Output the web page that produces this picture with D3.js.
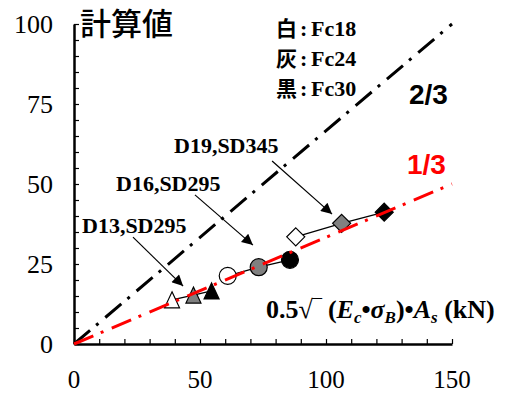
<!DOCTYPE html>
<html>
<head>
<meta charset="utf-8">
<script src="https://cdn.jsdelivr.net/npm/d3@7"></script>
<style>
  body { margin: 0; background: #fff; }
  svg { display: block; }
</style>
</head>
<body>
<div id="chart"></div>
<script>
// data
var xTicks = [0, 50, 100, 150];
var yTicks = [0, 25, 50, 75, 100];
var fills = ["#ffffff", "#808080", "#000000"];   // 白, 灰, 黒

var triX = [38.9, 47.4, 54.6];
var triY = [13.8, 15.3, 16.6];
var cirX = [61.0, 73.3, 85.7];
var cirY = [21.3, 24.0, 26.3];
var diaX = [88.0, 106.2, 123.1];
var diaY = [33.5, 37.7, 41.2];

var ratios = [2/3, 1/3];
var ratioLabels = ["2/3", "1/3"];
var legendKanji = ["白", "灰", "黒"];
var legendFc = ["Fc18", "Fc24", "Fc30"];

var barNames = ["D13,SD295", "D16,SD295", "D19,SD345"];
var arrowFrom = [[23.4, 33.4], [48.0, 46.6], [78.6, 57.2]];
var arrowTo = [[43.3, 18.1], [71.0, 30.9], [102.4, 40.6]];

var width = 511, height = 394;
var svg = d3.select("#chart").append("svg")
    .attr("width", width)
    .attr("height", height);

var x = d3.scaleLinear().domain([0, 150]).range([74, 452]);
var y = d3.scaleLinear().domain([0, 100]).range([344, 24]);

var serif = "'Liberation Serif','Times New Roman',serif";
var sans = "'Liberation Sans',Arial,sans-serif";
var cjk = "'Noto Sans CJK JP',sans-serif";

// axes, ticks point inside
var xAxis = svg.append("g")
    .attr("transform", "translate(0," + y(0) + ")")
    .call(d3.axisBottom(x).tickValues(d3.range(0, 151, 10)).tickSize(-5).tickSizeOuter(0).tickFormat(""));
var yAxis = svg.append("g")
    .attr("transform", "translate(" + x(0) + ",0)")
    .call(d3.axisLeft(y).tickValues(d3.range(0, 101, 5)).tickSize(-5).tickSizeOuter(0).tickFormat(""));
svg.selectAll(".domain").attr("stroke", "#000").attr("stroke-width", 2.5);
svg.selectAll(".tick line").attr("stroke", "#000").attr("stroke-width", 1.2);

svg.selectAll(".xlab").data(xTicks).enter().append("text")
    .attr("x", function(d) { return x(d); })
    .attr("y", 388)
    .attr("text-anchor", "middle")
    .style("font-family", serif).style("font-size", "25px")
    .text(function(d) { return d; });

svg.selectAll(".ylab").data(yTicks).enter().append("text")
    .attr("x", 53)
    .attr("y", function(d) { return y(d) + 9; })
    .attr("text-anchor", "end")
    .style("font-family", serif).style("font-size", "26px")
    .text(function(d) { return d; });

svg.append("text")
    .attr("x", 80).attr("y", 35)
    .style("font-family", cjk).style("font-size", "31px").style("font-weight", "500")
    .text("計算値");

// legend
legendKanji.forEach(function(k, i) {
    var t = svg.append("text").attr("x", 276).attr("y", 36 + i * 30)
        .style("font-weight", "bold");
    t.append("tspan").style("font-family", cjk).style("font-size", "21px").text(k);
    t.append("tspan").attr("x", 300).style("font-family", serif).style("font-size", "22px").text(":");
    t.append("tspan").attr("x", 311).style("font-family", serif).style("font-size", "22px").text(legendFc[i]);
});

// thin lines joining each bar group
var joinLine = d3.line().x(function(d) { return x(d[0]); }).y(function(d) { return y(d[1]); });
var groups = [
    {xs: triX, ys: triY, shape: "tri"},
    {xs: cirX, ys: cirY, shape: "cir"},
    {xs: diaX, ys: diaY, shape: "dia"}
];
groups.forEach(function(g) {
    var pts = g.xs.map(function(v, i) { return [v, g.ys[i]]; });
    svg.append("path").attr("d", joinLine(pts))
        .attr("fill", "none").attr("stroke", "#000").attr("stroke-width", 1.2);
});

function markerPath(shape) {
    if (shape === "tri") return "M0,-8L7.5,8L-7.5,8Z";
    if (shape === "dia") return "M0,-9L9,0L0,9L-9,0Z";
    return null;
}
groups.forEach(function(g) {
    g.xs.forEach(function(v, i) {
        var cx = x(v), cy = y(g.ys[i]);
        if (g.shape === "cir") {
            svg.append("circle").attr("cx", cx).attr("cy", cy).attr("r", 8.5)
                .attr("fill", fills[i]).attr("stroke", "#000").attr("stroke-width", 1.2);
        } else {
            svg.append("path").attr("d", markerPath(g.shape))
                .attr("transform", "translate(" + cx + "," + cy + ")")
                .attr("fill", fills[i]).attr("stroke", "#000").attr("stroke-width", 1.2);
        }
    });
});

// reference lines 2/3 and 1/3
var refColors = ["#000000", "#ff0000"];
ratios.forEach(function(r, i) {
    svg.append("line")
        .attr("x1", x(0)).attr("y1", y(0))
        .attr("x2", x(150)).attr("y2", y(150 * r))
        .attr("stroke", refColors[i]).attr("stroke-width", 3)
        .attr("stroke-dasharray", "21,8,3,9");
});
svg.append("text").attr("x", 409).attr("y", 104)
    .style("font-family", sans).style("font-weight", "bold").style("font-size", "28px")
    .attr("fill", "#000").text(ratioLabels[0]);
svg.append("text").attr("x", 407).attr("y", 174)
    .style("font-family", sans).style("font-weight", "bold").style("font-size", "28px")
    .attr("fill", "#ff0000").text(ratioLabels[1]);

// bar annotations with arrows
svg.append("defs").append("marker")
    .attr("id", "head").attr("viewBox", "0 0 10 10")
    .attr("refX", 10).attr("refY", 5)
    .attr("markerWidth", 13).attr("markerHeight", 11)
    .attr("markerUnits", "userSpaceOnUse")
    .attr("orient", "auto")
    .append("path").attr("d", "M0,0L10,5L0,10Z").attr("fill", "#000");

var labelPos = [[82, 233], [116, 191], [174, 153]];
barNames.forEach(function(n, i) {
    svg.append("text").attr("x", labelPos[i][0]).attr("y", labelPos[i][1])
        .style("font-family", serif).style("font-weight", "bold").style("font-size", "22px")
        .text(n);
    svg.append("line")
        .attr("x1", x(arrowFrom[i][0])).attr("y1", y(arrowFrom[i][1]))
        .attr("x2", x(arrowTo[i][0])).attr("y2", y(arrowTo[i][1]))
        .attr("stroke", "#000").attr("stroke-width", 1.2)
        .attr("marker-end", "url(#head)");
});

// x axis title
var xt = svg.append("text").attr("x", 266).attr("y", 318)
    .style("font-family", serif).style("font-weight", "bold").style("font-size", "26px");
xt.append("tspan").text("0.5√‾ (");
xt.append("tspan").style("font-style", "italic").text("E");
xt.append("tspan").style("font-style", "italic").style("font-size", "17px").attr("dy", 5).text("c");
xt.append("tspan").attr("dy", -5).text("•");
xt.append("tspan").style("font-style", "italic").text("σ");
xt.append("tspan").style("font-style", "italic").style("font-size", "17px").attr("dy", 5).text("B");
xt.append("tspan").attr("dy", -5).text(")•");
xt.append("tspan").style("font-style", "italic").text("A");
xt.append("tspan").style("font-style", "italic").style("font-size", "17px").attr("dy", 5).text("s");
xt.append("tspan").attr("dy", -5).text(" (kN)");
</script>
</body>
</html>
